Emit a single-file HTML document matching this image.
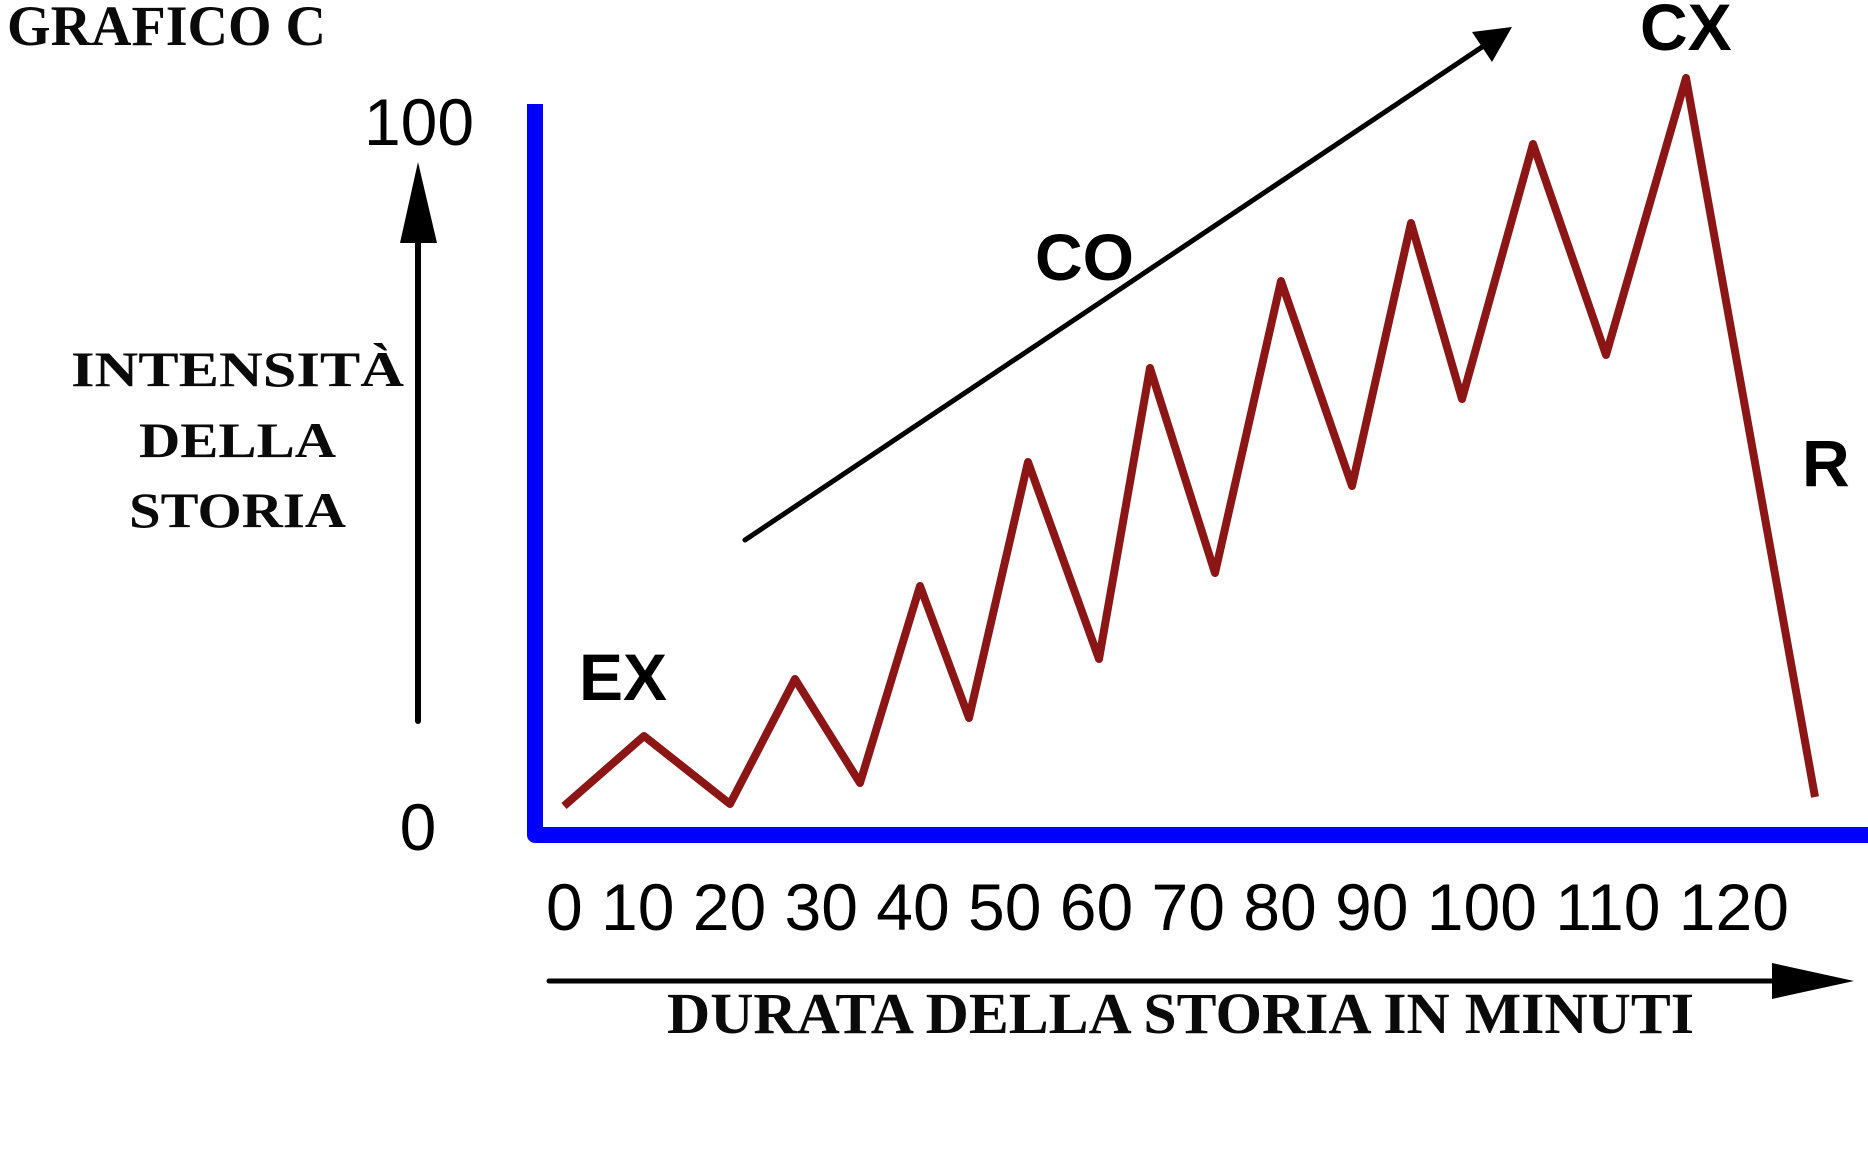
<!DOCTYPE html>
<html>
<head>
<meta charset="utf-8">
<style>
  html, body { margin: 0; padding: 0; background: #ffffff; }
  body { width: 1868px; height: 1168px; overflow: hidden; }
  svg { display: block; }
  .serif { font-family: "Liberation Serif", "Times New Roman", serif; font-weight: bold; fill: #0a0a0a; }
  .sans { font-family: "Liberation Sans", Arial, sans-serif; fill: #000; }
  .bold { font-weight: bold; }
</style>
</head>
<body>
<svg width="1868" height="1168" viewBox="0 0 1868 1168" xmlns="http://www.w3.org/2000/svg">
  <rect x="0" y="0" width="1868" height="1168" fill="#ffffff"/>

  <!-- Title -->
  <text class="serif" x="7" y="45" font-size="57" textLength="319" lengthAdjust="spacingAndGlyphs">GRAFICO C</text>

  <!-- Y-axis label -->
  <text class="serif" x="237.5" y="386" font-size="50" text-anchor="middle" textLength="333" lengthAdjust="spacingAndGlyphs">INTENSITÀ</text>
  <text class="serif" x="237.5" y="457" font-size="50" text-anchor="middle" textLength="197" lengthAdjust="spacingAndGlyphs">DELLA</text>
  <text class="serif" x="237.5" y="527" font-size="50" text-anchor="middle" textLength="217" lengthAdjust="spacingAndGlyphs">STORIA</text>

  <!-- Y tick labels -->
  <text class="sans" x="419" y="145" font-size="66" text-anchor="middle">100</text>
  <text class="sans" x="418" y="850" font-size="66" text-anchor="middle">0</text>

  <!-- Vertical black arrow -->
  <line x1="418" y1="721" x2="418" y2="238" stroke="#000" stroke-width="6" stroke-linecap="round"/>
  <polygon points="418,162 400,243 437,243" fill="#000"/>

  <!-- Blue axes -->
  <path d="M535,104 L535,835 L1868,835" fill="none" stroke="#0000ff" stroke-width="16" stroke-linejoin="round" stroke-linecap="butt"/>

  <!-- CO trend arrow -->
  <line x1="745" y1="540" x2="1485" y2="45" stroke="#000" stroke-width="5" stroke-linecap="round"/>
  <polygon points="1512,27 1492,62 1472,32" fill="#000"/>

  <!-- Red zigzag -->
  <polyline fill="none" stroke="#8c1515" stroke-width="8" stroke-linejoin="round" stroke-linecap="butt"
    points="564,806 644,736 730,804 795,679 860,783 920,586 969,718 1028,462 1099,659 1150,368 1215,573 1281,281 1352,486 1411,223 1462,399 1533,144 1606,355 1686,78 1815,797"/>

  <!-- Bold labels -->
  <text class="sans bold" x="579" y="700" font-size="66">EX</text>
  <text class="sans bold" x="1035" y="280" font-size="66">CO</text>
  <text class="sans bold" x="1640" y="50" font-size="66">CX</text>
  <text class="sans bold" x="1802" y="486" font-size="66">R</text>

  <!-- X tick labels -->
  <text class="sans" x="546" y="930" font-size="66" xml:space="preserve">0 10 20 30 40 50 60 70 80 90 100 110 120</text>

  <!-- Horizontal black arrow -->
  <line x1="549" y1="981" x2="1780" y2="981" stroke="#000" stroke-width="5" stroke-linecap="round"/>
  <polygon points="1854,981 1772,963 1772,999" fill="#000"/>

  <!-- X-axis label -->
  <text class="serif" x="667" y="1033" font-size="58" textLength="1027" lengthAdjust="spacingAndGlyphs">DURATA DELLA STORIA IN MINUTI</text>
</svg>
</body>
</html>
